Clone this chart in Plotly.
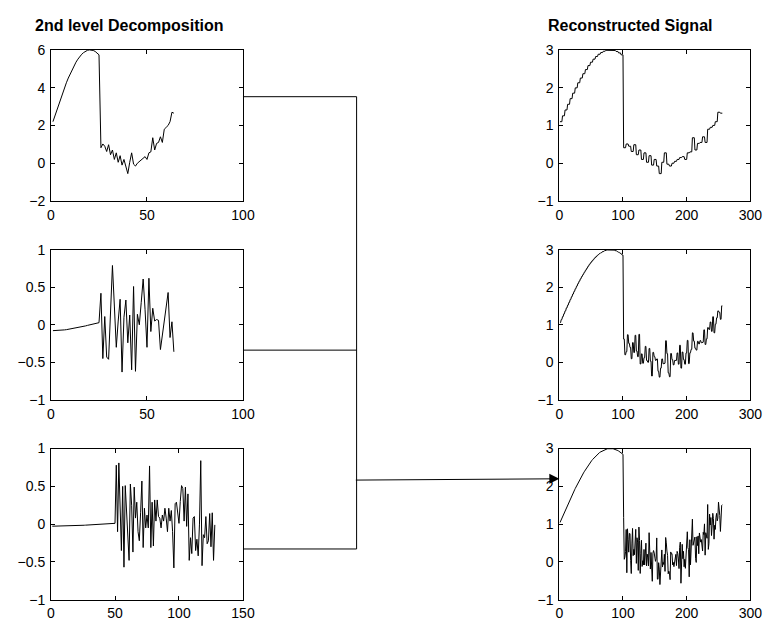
import math
import plotly.graph_objects as go

# ---- data -----------------------------------------------------------------
# level-2 approximation coefficients (Haar), 64 samples
cA2 = [2.20, 2.51, 2.82, 3.12, 3.42, 3.71, 3.99, 4.26, 4.51, 4.74,
       4.96, 5.17, 5.35, 5.51, 5.65, 5.77, 5.86, 5.93, 5.98, 6.00,
       6.00, 5.97, 5.92, 5.84, 5.74,
       0.82, 1.02, 0.90, 0.62, 0.98, 0.45, 0.70, 0.20, 0.55, 0.05,
       0.40, -0.10, 0.20, -0.15, -0.55, 0.05, 0.55, -0.05, -0.15, 0.00,
       0.10, 0.20, 0.30, 0.35, 0.20, 0.55, 0.60, 1.35, 0.70, 1.05,
       1.10, 1.40, 1.10, 1.80, 1.90, 2.00, 2.20, 2.70, 2.65]

# level-2 detail coefficients, 64 samples
cD2 = [-0.078, -0.078, -0.077, -0.075, -0.073, -0.071, -0.068, -0.065, -0.061, -0.057,
       -0.053, -0.048, -0.043, -0.038, -0.032, -0.026, -0.021, -0.015, -0.008, -0.002,
       0.004, 0.010, 0.016, 0.022, 0.028,
       0.42, -0.45, 0.11, -0.43, -0.46, 0.15, 0.79, 0.25, -0.30, 0.05,
       0.34, -0.63, 0.10, 0.33, -0.24, 0.13, -0.60, 0.51, -0.62, 0.14,
       0.00, 0.30, 0.61, 0.20, -0.30, 0.62, -0.09, 0.22, 0.05, 0.07,
       0.06, -0.33, -0.15, 0.05, 0.25, 0.43, -0.17, 0.04, -0.36]

# level-1 detail coefficients, 128 samples
cD1 = [-0.0278, -0.0277, -0.0276, -0.0275, -0.0273, -0.0270, -0.0267, -0.0264, -0.0261, -0.0258,
       -0.0254, -0.0249, -0.0244, -0.0239, -0.0233, -0.0227, -0.0220, -0.0213, -0.0206, -0.0198,
       -0.0191, -0.0182, -0.0174, -0.0166, -0.0157, -0.0148, -0.0138, -0.0129, -0.0119, -0.0109,
       -0.0099, -0.0089, -0.0078, -0.0068, -0.0057, -0.0046, -0.0036, -0.0025, -0.0014, -0.0003,
       0.0008, 0.0019, 0.0030, 0.0041, 0.0052, 0.0062, 0.0073, 0.0083, 0.0094, 0.0104,
       0.78, -0.10, 0.81, 0.20, -0.35, 0.50, -0.57, 0.51, 0.10, -0.20,
       -0.48, 0.53, 0.25, -0.37, 0.49, 0.08, 0.29, -0.10, -0.22, 0.15,
       0.57, -0.31, 0.21, -0.05, 0.12, -0.05, 0.77, -0.31, 0.29, -0.29,
       0.32, 0.04, 0.32, 0.10, 0.08, -0.05, 0.12, 0.04, 0.21, 0.08,
       -0.10, 0.21, 0.04, 0.18, -0.10, -0.58, 0.27, 0.29, 0.17, 0.01,
       0.30, 0.51, 0.47, 0.04, 0.49, -0.03, 0.40, -0.48, -0.18, -0.39,
       0.08, 0.10, -0.35, -0.20, -0.42, 0.00, 0.84, -0.55, -0.14, -0.18,
       0.10, -0.26, -0.22, 0.14, -0.30, 0.15, -0.48, -0.01]

left_titles = "2nd level Decomposition"
right_title = "Reconstructed Signal"

# ---- inverse Haar reconstruction of the coefficients ----------------------
r2 = math.sqrt(2.0)
approx2 = []
detail2 = []
for a, d in zip(cA2, cD2):
    approx2 += [a / 2] * 4
    detail2 += [d / 2, d / 2, -d / 2, -d / 2]
level1 = [a + d for a, d in zip(approx2, detail2)]
detail1 = []
for d in cD1:
    detail1 += [d / r2, -d / r2]
signal = [a + d for a, d in zip(level1, detail1)]

W, H = 778, 633


def px(x):
    return x / W


def py(y):
    return 1 - y / H


fig = go.Figure()

panels = [
    (cA2, 1), (cD2, 2), (cD1, 3),
    (approx2, 4), (level1, 5), (signal, 6),
]
for vals, k in panels:
    fig.add_trace(go.Scatter(
        x=list(range(1, len(vals) + 1)), y=vals, mode="lines",
        line=dict(color="black", width=1),
        xaxis="x" if k == 1 else f"x{k}", yaxis="y" if k == 1 else f"y{k}",
        showlegend=False, hoverinfo="skip"))

font = dict(family="Liberation Sans, Arial, sans-serif", size=14, color="black")
common = dict(showline=True, linecolor="black", linewidth=1, mirror="ticks",
              ticks="inside", ticklen=4, tickcolor="black", tickwidth=1,
              showgrid=False, zeroline=False, tickfont=font, fixedrange=True)

xl = [px(48), px(244)]
xr = [px(567), px(762)]
rows = [[py(198), py(43)], [py(402), py(248)], [py(607), py(452)]]

layout = {}
specs = [
    (1, xl, rows[0], [0, 100], [0, 50, 100], [-2, 6], [-2, 0, 2, 4, 6]),
    (2, xl, rows[1], [0, 100], [0, 50, 100], [-1, 1], [-1, -0.5, 0, 0.5, 1]),
    (3, xl, rows[2], [0, 150], [0, 50, 100, 150], [-1, 1], [-1, -0.5, 0, 0.5, 1]),
    (4, xr, rows[0], [0, 300], [0, 100, 200, 300], [-1, 3], [-1, 0, 1, 2, 3]),
    (5, xr, rows[1], [0, 300], [0, 100, 200, 300], [-1, 3], [-1, 0, 1, 2, 3]),
    (6, xr, rows[2], [0, 300], [0, 100, 200, 300], [-1, 3], [-1, 0, 1, 2, 3]),
]
for k, xd, yd, xrng, xt, yrng, yt in specs:
    xn = "xaxis" if k == 1 else f"xaxis{k}"
    yn = "yaxis" if k == 1 else f"yaxis{k}"
    ya = "y" if k == 1 else f"y{k}"
    xa = "x" if k == 1 else f"x{k}"
    layout[xn] = dict(domain=xd, range=xrng, tickvals=xt, anchor=ya,
                      ticklabelstandoff=1, **common)
    layout[yn] = dict(domain=yd, range=yrng, tickvals=yt, anchor=xa,
                      ticklabelstandoff=2, **common)

fig.update_layout(**layout)

# connector lines between the panels
lines = [
    (244, 91, 360, 91),
    (360, 91, 360, 555),
    (244, 351, 360, 351),
    (244, 555, 360, 555),
]
shapes = [dict(type="line", xref="paper", yref="paper",
               x0=px(a), y0=py(b), x1=px(c), y1=py(d),
               line=dict(color="black", width=1)) for a, b, c, d in lines]

annotations = [
    dict(text="<b>" + left_titles + "</b>", x=px(30), y=py(17.5), xref="paper",
         yref="paper", xanchor="left", yanchor="middle", showarrow=False,
         font=dict(family="Liberation Sans, Arial, sans-serif", size=16, color="black")),
    dict(text="<b>" + right_title + "</b>", x=px(553), y=py(17.5), xref="paper",
         yref="paper", xanchor="left", yanchor="middle", showarrow=False,
         font=dict(family="Liberation Sans, Arial, sans-serif", size=16, color="black")),
    dict(text="", x=px(567), y=py(483), ax=362 - 567, ay=1.3,
         xref="paper", yref="paper", axref="pixel", ayref="pixel",
         showarrow=True, arrowhead=2, arrowsize=2, arrowwidth=1,
         arrowcolor="black"),
]

fig.update_layout(width=W, height=H, margin=dict(l=0, r=0, t=0, b=0),
                  paper_bgcolor="white", plot_bgcolor="white",
                  shapes=shapes, annotations=annotations, showlegend=False)

fig.write_html("out.html")
